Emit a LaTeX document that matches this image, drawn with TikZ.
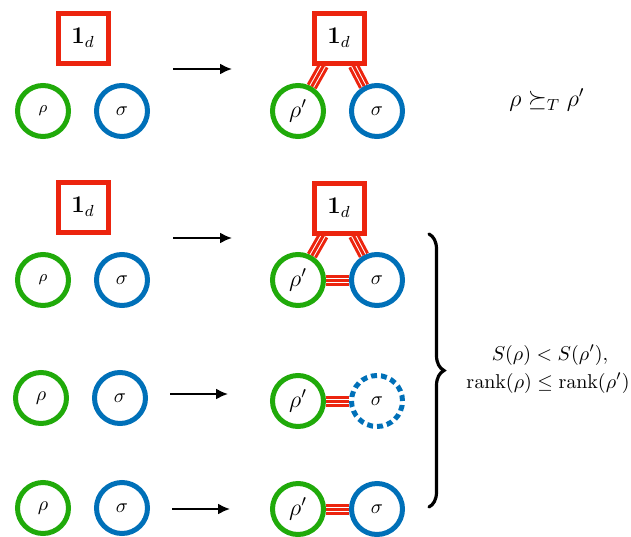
\documentclass[tikz,border=0pt]{standalone}
\usepackage{amsmath,amssymb}
\usetikzlibrary{arrows.meta}
\usetikzlibrary{decorations.pathreplacing}
\definecolor{rhogreen}{RGB}{32,170,10}
\definecolor{sigmablue}{RGB}{0,112,184}
\definecolor{idred}{RGB}{236,36,14}
\pgfdeclarelayer{back}
\pgfsetlayers{back,main}
\tikzstyle{rhostate} = [circle, draw=rhogreen, line width=2.5pt, minimum size=25.5pt, inner sep=0pt, fill=white]
\tikzstyle{sigmastate} = [circle, draw=sigmablue, line width=2.5pt, minimum size=25.5pt, inner sep=0pt, fill=white]
\tikzstyle{sigmalost} = [sigmastate, dash pattern=on 3pt off 2pt]
\tikzstyle{identity} = [rectangle, draw=idred, line width=2.5pt, minimum size=25pt, inner sep=0pt, fill=white]
\tikzstyle{linkbase} = [draw=idred, line width=5.5pt]
\tikzstyle{linkstripe} = [draw=white, line width=0.5pt, double=idred, double distance=1.5pt]
\tikzstyle{map} = [-{Latex[length=6pt,width=5.5pt]}, line width=1pt]

\begin{document}
\begin{tikzpicture}[x=0.5pt, y=-0.5pt]

    \useasboundingbox (0, 0) rectangle (631, 536);

    % row 1
    \node(id1)[identity] at (83, 38) {\large $\mathbf{1}_d$};
    \node(rho1)[rhostate] at (43, 111) {\footnotesize $\rho$};
    \node(sig1)[sigmastate] at (122, 111) {$\sigma$};
    \coordinate(a1s) at (173, 69);
    \coordinate(a1e) at (232, 69);
    \draw[map] (a1s) -- (a1e);
    \node(idB1)[identity] at (339, 38) {\large $\mathbf{1}_d$};
    \node(rhoB1)[rhostate] at (298, 111) {\large $\rho'$};
    \node(sigB1)[sigmastate] at (377, 111) {$\sigma$};
    \node(order)[anchor=center] at (547, 100) {\large $\rho \succeq_T \rho'$};

    % row 2
    \node(id2)[identity] at (83, 207) {\large $\mathbf{1}_d$};
    \node(rho2)[rhostate] at (43, 280) {\footnotesize $\rho$};
    \node(sig2)[sigmastate] at (122, 280) {$\sigma$};
    \coordinate(a2s) at (173, 238);
    \coordinate(a2e) at (232, 238);
    \draw[map] (a2s) -- (a2e);
    \node(idB2)[identity] at (339, 208) {\large $\mathbf{1}_d$};
    \node(rhoB2)[rhostate] at (298, 280) {\large $\rho'$};
    \node(sigB2)[sigmastate] at (377, 280) {$\sigma$};

    % row 3
    \node(rho3)[rhostate] at (41, 398) {$\rho$};
    \node(sig3)[sigmastate] at (120, 398) {$\sigma$};
    \coordinate(a3s) at (170, 394);
    \coordinate(a3e) at (228, 394);
    \draw[map] (a3s) -- (a3e);
    \node(rhoB3)[rhostate] at (298, 401) {\large $\rho'$};
    \node(sigB3)[sigmalost] at (377, 401) {$\sigma$};

    % row 4
    \node(rho4)[rhostate] at (43, 508) {$\rho$};
    \node(sig4)[sigmastate] at (122, 508) {$\sigma$};
    \coordinate(a4s) at (172, 509);
    \coordinate(a4e) at (230, 509);
    \draw[map] (a4s) -- (a4e);
    \node(rhoB4)[rhostate] at (298, 509) {\large $\rho'$};
    \node(sigB4)[sigmastate] at (377, 509) {$\sigma$};

    % correlations
    \begin{pgfonlayer}{back}
    \foreach \a/\b in {idB1/rhoB1, idB1/sigB1, idB2/rhoB2, idB2/sigB2, rhoB2/sigB2, rhoB3/sigB3, rhoB4/sigB4} {
        \draw[linkbase] (\a) -- (\b);
        \draw[linkstripe] (\a) -- (\b);
    }
    \end{pgfonlayer}

    % brace and conditions
    \coordinate(bt) at (429, 234);
    \coordinate(bb) at (429, 507);
    \draw[decorate, decoration={brace, amplitude=7.5pt}, line width=1.6pt, line cap=round] (bt) -- (bb);
    \node(entropy) at (550, 355) {$S(\rho) < S(\rho'),$};
    \node(rank) at (548, 383) {$\mathrm{rank}(\rho) \leq \mathrm{rank}(\rho')$};

\end{tikzpicture}
\end{document}
